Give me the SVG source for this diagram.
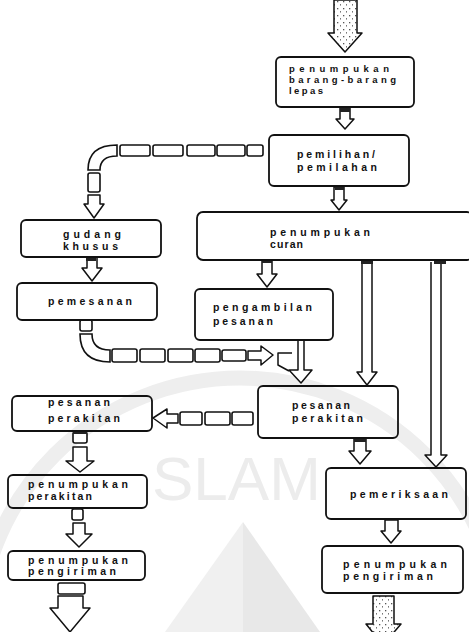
<svg xmlns="http://www.w3.org/2000/svg" width="469" height="632" viewBox="0 0 469 632">
<style>
.bx{fill:none;stroke:#111;stroke-width:1.8}
.ar{fill:#fff;stroke:#111;stroke-width:1.5;stroke-linejoin:round}
.ln{fill:none;stroke:#111;stroke-width:1.5;stroke-linejoin:round}
.ds{fill:#fff;stroke:#111;stroke-width:1.6}
.stub{fill:#222}
.dot{fill:url(#dots);stroke:#111;stroke-width:1.5;stroke-linejoin:round}
.t{font-family:"Liberation Sans",Arial,sans-serif;font-size:10.5px;font-weight:bold;fill:#111}
.s{font-size:9.5px}
.wm{fill:#ececec}
</style>
<defs>
<pattern id="dots" width="6" height="7" patternUnits="userSpaceOnUse">
<rect width="6" height="7" fill="#fff"/>
<rect x="1" y="1" width="1.3" height="1.3" fill="#555"/>
<rect x="4" y="4" width="1" height="1.6" fill="#777"/>
</pattern>
</defs>
<rect width="469" height="632" fill="#fff"/>
<g id="watermark">
<circle cx="240" cy="640" r="262" fill="none" stroke="#eeeeee" stroke-width="15"/>
<path d="M243,522 L243,632 L165,632 Z" fill="#f0f0f0"/>
<path d="M243,522 L320,632 L243,632 Z" fill="#e8e8e8"/>
<text x="152" y="500" font-family="Liberation Sans,Arial,sans-serif" font-size="62" class="wm">SLAM</text>
</g>
<g id="connectors">
<path class="dot" d="M334,0 L357,0 L357,33 L362,33 L345,52 L328,33 L334,33 Z"/>
<path class="ar" d="M340,108 L350,108 L350,119 L354,119 L345,129 L336,119 L340,119 Z"/>
<rect class="stub" x="340" y="107" width="10" height="5"/>
<path class="ar" d="M334,187 L344,187 L344,200 L347,200 L339,210 L331,200 L334,200 Z"/>
<rect class="stub" x="335" y="186" width="9" height="4"/>
<path class="ar" d="M262,261 L272,261 L272,274 L277,274 L267,287 L257,274 L262,274 Z"/>
<rect class="stub" x="262" y="259" width="10" height="4"/>
<path class="ar" d="M87,257 L97,257 L97,268 L102,268 L92,281 L82,268 L87,268 Z"/>
<rect class="stub" x="86" y="256" width="10" height="5"/>
<rect class="ds" x="247" y="145" width="16" height="11" rx="2"/>
<rect class="ds" x="217" y="145" width="28" height="11" rx="2"/>
<rect class="ds" x="187" y="145" width="28" height="11" rx="2"/>
<rect class="ds" x="153" y="145" width="30" height="11" rx="2"/>
<rect class="ds" x="120" y="145" width="30" height="11" rx="2"/>
<path class="ds" d="M117,145 Q88,145 88,170 L100,170 Q100,156 117,156 Z"/>
<rect class="ds" x="88" y="173" width="12" height="19" rx="2"/>
<path class="ar" d="M88,195 L100,195 L100,204 L104,204 L94,218 L84,204 L88,204 Z"/>
<rect class="ds" x="80" y="320" width="12" height="11" rx="2"/>
<path class="ds" d="M80,334 Q80,362 110,362 L110,350 Q92,350 92,334 Z"/>
<rect class="ds" x="112" y="349" width="25" height="13" rx="2"/>
<rect class="ds" x="140" y="349" width="25" height="13" rx="2"/>
<rect class="ds" x="168" y="349" width="25" height="13" rx="2"/>
<rect class="ds" x="195" y="349" width="25" height="13" rx="2"/>
<rect class="ds" x="222" y="350" width="24" height="11" rx="2"/>
<path class="ar" d="M248,351 L261,351 L261,346 L273,355 L261,365 L261,360 L248,360 Z"/>
<path class="ln" d="M292,353 L278,353 L278,365 L289,371"/>
<path class="ar" d="M298,340 L304,340 L304,370 L312,370 L301,383 L289,370 L298,370 Z"/>
<path class="ar" d="M362,262 L362,372 L357,372 L367,385 L377,372 L372,372 L372,262"/>
<rect class="stub" x="361" y="260" width="12" height="4"/>
<path class="ar" d="M431,262 L431,455 L425,455 L436,467 L447,455 L441,455 L441,262"/>
<rect class="stub" x="434" y="260" width="12" height="4"/>
<path class="ar" d="M354,438 L366,438 L366,451 L371,451 L360,464 L349,451 L354,451 Z"/>
<rect class="stub" x="354" y="437" width="12" height="5"/>
<rect class="ds" x="232" y="412" width="21" height="13" rx="2"/>
<rect class="ds" x="205" y="412" width="25" height="13" rx="2"/>
<rect class="ds" x="180" y="412" width="22" height="13" rx="2"/>
<path class="ar" d="M178,414 L167,414 L167,409 L153,418 L167,428 L167,423 L178,423 Z"/>
<rect class="ds" x="73" y="432" width="14" height="11" rx="2"/>
<rect class="stub" x="73" y="431" width="14" height="3"/>
<path class="ar" d="M73,447 L87,447 L87,461 L94,461 L80,472 L66,461 L73,461 Z"/>
<rect class="ds" x="72" y="509" width="11" height="11" rx="2"/>
<path class="ar" d="M73,523 L85,523 L85,534 L92,534 L79,547 L66,534 L73,534 Z"/>
<rect class="ds" x="58" y="583" width="27" height="11" rx="2"/>
<path class="ar" d="M58,596 L83,596 L83,608 L90,608 L70,632 L50,608 L58,608 Z"/>
<path class="ar" d="M385,520 L398,520 L398,531 L401,531 L391,543 L381,531 L385,531 Z"/>
<path class="dot" d="M373,596 L394,596 L394,624 L401,624 L383,645 L366,624 L373,624 Z"/>
</g>
<g id="n1"><rect class="bx" x="276" y="57" width="138" height="50" rx="5"/>
<text class="t s" x="289" y="72" textLength="100" lengthAdjust="spacing">penumpukan</text><text class="t s" x="289" y="83" textLength="107" lengthAdjust="spacing">barang-barang</text><text class="t s" x="289" y="94" textLength="34" lengthAdjust="spacing">lepas</text></g>
<g id="n2"><rect class="bx" x="269" y="135" width="140" height="51" rx="5"/>
<text class="t" x="297" y="158" textLength="78" lengthAdjust="spacing">pemilihan/</text><text class="t" x="297" y="171" textLength="80" lengthAdjust="spacing">pemilahan</text></g>
<g id="n3"><rect class="bx" x="21" y="220" width="140" height="37" rx="5"/>
<text class="t" x="63" y="238" textLength="58" lengthAdjust="spacing">gudang</text><text class="t" x="63" y="250" textLength="55" lengthAdjust="spacing">khusus</text></g>
<g id="n4"><rect class="bx" x="197" y="212" width="276" height="48" rx="6"/>
<text class="t" x="270" y="236" textLength="100" lengthAdjust="spacing">penumpukan</text><text class="t" x="270" y="248" textLength="33" lengthAdjust="spacing">curan</text></g>
<g id="n5"><rect class="bx" x="17" y="283" width="140" height="37" rx="5"/>
<text class="t" x="48" y="305" textLength="84" lengthAdjust="spacing">pemesanan</text></g>
<g id="n6"><rect class="bx" x="195" y="289" width="138" height="51" rx="5"/>
<text class="t" x="213" y="311" textLength="99" lengthAdjust="spacing">pengambilan</text><text class="t" x="213" y="325" textLength="60" lengthAdjust="spacing">pesanan</text></g>
<g id="n7"><rect class="bx" x="258" y="386" width="140" height="52" rx="5"/>
<text class="t" x="292" y="409" textLength="58" lengthAdjust="spacing">pesanan</text><text class="t" x="292" y="422" textLength="71" lengthAdjust="spacing">perakitan</text></g>
<g id="n8"><rect class="bx" x="12" y="396" width="140" height="35" rx="5"/>
<text class="t" x="48" y="406" textLength="62" lengthAdjust="spacing">pesanan</text><text class="t" x="48" y="422" textLength="72" lengthAdjust="spacing">perakitan</text></g>
<g id="n9"><rect class="bx" x="8" y="475" width="139" height="33" rx="5"/>
<text class="t" x="28" y="488" textLength="100" lengthAdjust="spacing">penumpukan</text><text class="t" x="28" y="500" textLength="64" lengthAdjust="spacing">perakitan</text></g>
<g id="n10"><rect class="bx" x="8" y="551" width="137" height="29" rx="5"/>
<text class="t" x="28" y="564" textLength="100" lengthAdjust="spacing">penumpukan</text><text class="t" x="28" y="575" textLength="88" lengthAdjust="spacing">pengiriman</text></g>
<g id="n11"><rect class="bx" x="326" y="468" width="140" height="51" rx="5"/>
<text class="t" x="350" y="498" textLength="98" lengthAdjust="spacing">pemeriksaan</text></g>
<g id="n12"><rect class="bx" x="322" y="546" width="141" height="47" rx="5"/>
<text class="t" x="343" y="568" textLength="104" lengthAdjust="spacing">penumpukan</text><text class="t" x="343" y="580" textLength="90" lengthAdjust="spacing">pengiriman</text></g>
</svg>
